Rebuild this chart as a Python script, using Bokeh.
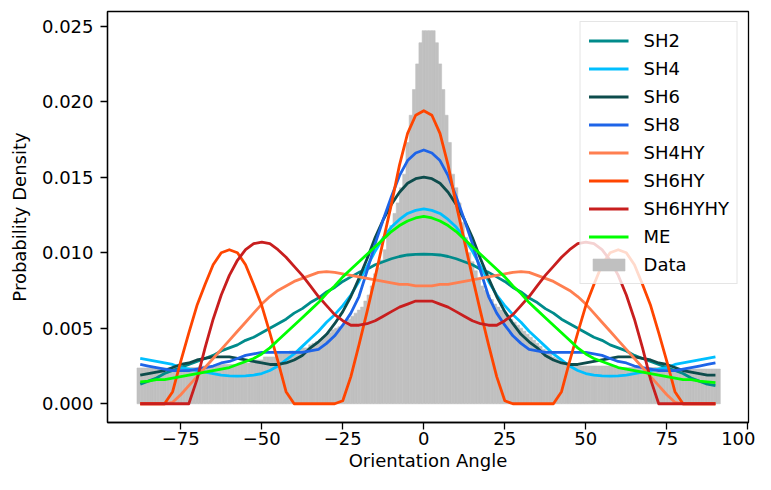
from bokeh.plotting import figure
from bokeh.models import (Range1d, FixedTicker, CustomJSTickFormatter, Legend,
                          LegendItem, NumeralTickFormatter)
from bokeh.embed import file_html
from bokeh.resources import INLINE

# ---------------- data ----------------
# histogram: bin centres (width 1 degree) and densities
hist_centers = list(range(-88, 92))
hist_density = [
    0.00237, 0.00237, 0.00237, 0.00237, 0.00237, 0.00237, 0.00237, 0.00237, 0.00237, 0.00237,
    0.00237, 0.00237, 0.00237,
    0.0024, 0.0024, 0.0024, 0.0024, 0.0024, 0.0024,
    0.0025, 0.0025, 0.0025, 0.0025, 0.0025, 0.0025,
    0.0026, 0.0026, 0.0026, 0.0026, 0.0026, 0.0026,
    0.0027, 0.0027, 0.0027, 0.0027,
    0.0029, 0.0029, 0.0029, 0.0029,
    0.0031, 0.0031, 0.0031, 0.0031,
    0.0033, 0.0033, 0.0033, 0.0033,
    0.0035, 0.0035, 0.0035,
    0.0037, 0.0037, 0.0037,
    0.0039, 0.0040, 0.0041, 0.0042, 0.0044, 0.0045, 0.0047, 0.0049, 0.0050, 0.0051,
    0.0052, 0.0054, 0.0056, 0.0058, 0.0060, 0.0062, 0.0064, 0.0068, 0.0072, 0.0078,
    0.0086, 0.0090, 0.0095, 0.0102, 0.0112, 0.0118, 0.0126, 0.0133, 0.0143, 0.0152,
    0.0173, 0.0191, 0.0208, 0.0225, 0.0239, 0.0247, 0.0247, 0.0247, 0.0247, 0.0239,
    0.0225, 0.0208, 0.0191, 0.0173, 0.0152, 0.0143, 0.0133, 0.0120, 0.0110, 0.0100,
    0.0094, 0.0088, 0.0083, 0.0078, 0.0075, 0.0072, 0.0069, 0.0066, 0.0064, 0.0062,
    0.0060, 0.0058, 0.0056, 0.0054, 0.0052, 0.0050, 0.0048, 0.0046, 0.0044, 0.0042,
    0.0040, 0.0038, 0.0036, 0.0035, 0.0033, 0.0031, 0.0030, 0.0029, 0.0028, 0.0027,
    0.0026, 0.0026,
    0.0025, 0.0025, 0.0025, 0.0025, 0.0025, 0.0025, 0.0025, 0.0025, 0.0025, 0.0025,
    0.0025, 0.0025, 0.0025,
    0.0024, 0.0024, 0.0024, 0.0024, 0.0024, 0.0024, 0.0024, 0.0024, 0.0024, 0.0024,
    0.0024, 0.0024, 0.0024, 0.0024, 0.0024, 0.0024,
    0.0023, 0.0023, 0.0023, 0.0023, 0.0023, 0.0023, 0.0023, 0.0023, 0.0023, 0.0023,
    0.0023, 0.0023, 0.0023, 0.0023, 0.0023, 0.0023,
]

# fitted curves sampled every 2.5 degrees from -87.5 to 90
angle = [-87.5 + 2.5 * i for i in range(72)]

sh2 = [0.0013, 0.0015, 0.0017, 0.0020, 0.0022, 0.0024, 0.0026, 0.0028, 0.0030, 0.0032,
       0.0035, 0.0037, 0.0039, 0.0042, 0.0044, 0.0047, 0.0050, 0.0053, 0.0056, 0.0060,
       0.0063, 0.0067, 0.0070, 0.0074, 0.0077, 0.0081, 0.0084, 0.0087, 0.0089, 0.0092,
       0.0094, 0.0096, 0.00975, 0.00985, 0.00989,
       0.0099, 0.00989, 0.00985, 0.00975, 0.0096, 0.0094, 0.0092, 0.0089, 0.0087, 0.0084,
       0.0081, 0.0077, 0.0074, 0.0070, 0.0067, 0.0063, 0.0060, 0.0056, 0.0053, 0.0050,
       0.0047, 0.0044, 0.0042, 0.0039, 0.0037, 0.0035, 0.0032, 0.0030, 0.0028, 0.0026,
       0.0024, 0.0022, 0.0020, 0.0017, 0.0015, 0.0013, 0.0012]

sh4 = [0.0030, 0.0029, 0.0028, 0.0027, 0.0026, 0.0024, 0.0023, 0.0022, 0.0021, 0.0020,
       0.0019, 0.00185, 0.00183, 0.00185, 0.0019, 0.0020, 0.0022, 0.0025, 0.0029, 0.0033,
       0.0038, 0.0043, 0.0048, 0.0054, 0.0059, 0.0065, 0.0072, 0.0081, 0.0091, 0.0101,
       0.0110, 0.0117, 0.0122, 0.0126, 0.0128,
       0.0129, 0.0128, 0.0126, 0.0122, 0.0117, 0.0110, 0.0101, 0.0091, 0.0081, 0.0072,
       0.0065, 0.0059, 0.0054, 0.0048, 0.0043, 0.0038, 0.0033, 0.0029, 0.0025, 0.0022,
       0.0020, 0.0019, 0.00185, 0.00183, 0.00185, 0.0019, 0.0020, 0.0021, 0.0022, 0.0023,
       0.0024, 0.0026, 0.0027, 0.0028, 0.0029, 0.0030, 0.0031]

sh6 = [0.0019, 0.0020, 0.0021, 0.0022, 0.0024, 0.0026, 0.0027, 0.0029, 0.0030, 0.0031,
       0.0031, 0.0031, 0.0030, 0.0029, 0.0028, 0.0027, 0.0026, 0.0026, 0.0027, 0.0029,
       0.0032, 0.0037, 0.0041, 0.0046, 0.0053, 0.0061, 0.0071, 0.0083, 0.0096, 0.0110,
       0.0122, 0.0132, 0.0140, 0.0146, 0.0149,
       0.0150, 0.0149, 0.0146, 0.0140, 0.0132, 0.0122, 0.0110, 0.0096, 0.0083, 0.0071,
       0.0061, 0.0053, 0.0046, 0.0041, 0.0037, 0.0032, 0.0029, 0.0027, 0.0026, 0.0026,
       0.0027, 0.0028, 0.0029, 0.0030, 0.0031, 0.0031, 0.0031, 0.0030, 0.0029, 0.0027,
       0.0026, 0.0024, 0.0022, 0.0021, 0.0020, 0.0019, 0.0019]

sh8 = [0.0026, 0.0025, 0.0024, 0.0023, 0.0022, 0.0022, 0.0022, 0.0023, 0.0024, 0.0025,
       0.0027, 0.0028, 0.0030, 0.0032, 0.0033, 0.0034, 0.0034, 0.0034, 0.0034, 0.0034,
       0.0034, 0.0035, 0.0036, 0.0040, 0.0045, 0.0052, 0.0060, 0.0071, 0.0088, 0.0106,
       0.0122, 0.0137, 0.0151, 0.0161, 0.0166,
       0.0168, 0.0166, 0.0161, 0.0151, 0.0137, 0.0122, 0.0106, 0.0088, 0.0071, 0.0060,
       0.0052, 0.0045, 0.0040, 0.0036, 0.0035, 0.0034, 0.0034, 0.0034, 0.0034, 0.0034,
       0.0034, 0.0033, 0.0032, 0.0030, 0.0028, 0.0027, 0.0025, 0.0024, 0.0023, 0.0022,
       0.0022, 0.0022, 0.0023, 0.0024, 0.0025, 0.0026, 0.0027]

sh4hy = [0.0, 0.0, 0.0, 0.0, 0.0001, 0.0006, 0.0012, 0.0018, 0.0024, 0.0030,
         0.0036, 0.0042, 0.0048, 0.0054, 0.0060, 0.0066, 0.0071, 0.0075, 0.0078, 0.0081,
         0.0083, 0.0085, 0.0087, 0.00875, 0.0087, 0.0086, 0.0085, 0.0084, 0.0083, 0.0082,
         0.0081, 0.0080, 0.0079, 0.0079, 0.0078,
         0.0078, 0.0078, 0.0079, 0.0079, 0.0080, 0.0081, 0.0082, 0.0083, 0.0084, 0.0085,
         0.0086, 0.0087, 0.00875, 0.0087, 0.0085, 0.0083, 0.0081, 0.0078, 0.0075, 0.0071,
         0.0066, 0.0060, 0.0054, 0.0048, 0.0042, 0.0036, 0.0030, 0.0024, 0.0018, 0.0012,
         0.0006, 0.0001, 0.0, 0.0, 0.0, 0.0, 0.0]

sh6hy = [0.0, 0.0, 0.0, 0.0, 0.0008, 0.0028, 0.0047, 0.0065, 0.0079, 0.0092,
         0.0100, 0.0102, 0.0100, 0.0092, 0.0079, 0.0065, 0.0047, 0.0028, 0.0008, 0.0,
         0.0, 0.0, 0.0, 0.0, 0.0, 0.0002, 0.0018, 0.0039, 0.0061, 0.0084,
         0.0108, 0.0132, 0.0158, 0.0179, 0.0191,
         0.0194, 0.0191, 0.0179, 0.0158, 0.0132, 0.0108, 0.0084, 0.0061, 0.0039, 0.0018,
         0.0002, 0.0, 0.0, 0.0, 0.0, 0.0, 0.0, 0.0008, 0.0028, 0.0047,
         0.0065, 0.0079, 0.0092, 0.0100, 0.0102, 0.0100, 0.0092, 0.0079, 0.0065, 0.0047,
         0.0028, 0.0008, 0.0, 0.0, 0.0, 0.0, 0.0]

sh6hyhy = [0.0, 0.0, 0.0, 0.0, 0.0, 0.0, 0.0, 0.0016, 0.0037, 0.0056,
           0.0072, 0.0085, 0.0095, 0.0102, 0.0106, 0.0107, 0.0106, 0.0102, 0.0097, 0.0091,
           0.0085, 0.0078, 0.0071, 0.0065, 0.0059, 0.0055, 0.0052, 0.0052, 0.0053, 0.0055,
           0.0058, 0.0061, 0.0064, 0.0066, 0.0068,
           0.0068, 0.0068, 0.0066, 0.0064, 0.0061, 0.0058, 0.0055, 0.0053, 0.0052, 0.0052,
           0.0055, 0.0059, 0.0065, 0.0071, 0.0078, 0.0085, 0.0091, 0.0097, 0.0102, 0.0106,
           0.0107, 0.0106, 0.0102, 0.0095, 0.0085, 0.0072, 0.0056, 0.0037, 0.0016, 0.0,
           0.0, 0.0, 0.0, 0.0, 0.0, 0.0, 0.0]

me = [0.00145, 0.0015, 0.0016, 0.0016, 0.0017, 0.0018, 0.0019, 0.0020, 0.0021, 0.0022,
      0.0023, 0.0024, 0.0026, 0.0028, 0.0030, 0.0033, 0.0037, 0.0042, 0.0047, 0.0052,
      0.0057, 0.0062, 0.0067, 0.0073, 0.0078, 0.0084, 0.0089, 0.0094, 0.0099, 0.0104,
      0.0109, 0.0114, 0.0118, 0.0121, 0.0123,
      0.0124, 0.0123, 0.0121, 0.0118, 0.0114, 0.0109, 0.0104, 0.0099, 0.0094, 0.0089,
      0.0084, 0.0078, 0.0073, 0.0067, 0.0062, 0.0057, 0.0052, 0.0047, 0.0042, 0.0037,
      0.0033, 0.0030, 0.0028, 0.0026, 0.0024, 0.0023, 0.0022, 0.0021, 0.0020, 0.0019,
      0.0018, 0.0017, 0.0016, 0.0016, 0.0015, 0.00145, 0.0014]

series_names = ["SH2", "SH4", "SH6", "SH8", "SH4HY", "SH6HY", "SH6HYHY", "ME"]
series_values = [sh2, sh4, sh6, sh8, sh4hy, sh6hy, sh6hyhy, me]
series_colors = ["#008b8b", "#00bfff", "#0d4c4c", "#1e64e8",
                 "#ff7f50", "#ff4500", "#c81e1e", "#00ff00"]

x_ticks = [-75, -50, -25, 0, 25, 50, 75, 100]
y_ticks = [0.0, 0.005, 0.010, 0.015, 0.020, 0.025]

for name, vals in zip(series_names, series_values):
    assert len(vals) == len(angle), (name, len(vals))
assert len(hist_density) == len(hist_centers), len(hist_density)

# ---------------- figure ----------------
FONT = "DejaVu Sans"
p = figure(width=755, height=474, output_backend="svg", toolbar_location=None,
           x_range=Range1d(-97.6, 100.2), y_range=Range1d(-0.00124, 0.02597),
           min_border_left=107, min_border_right=7, min_border_top=11,
           min_border_bottom=52)

p.background_fill_color = "white"
p.border_fill_color = "white"
p.outline_line_color = "black"
p.outline_line_width = 1.3
p.xgrid.visible = False
p.ygrid.visible = False

hist = p.quad(left=[c - 0.5 for c in hist_centers], right=[c + 0.5 for c in hist_centers],
              bottom=0, top=hist_density, fill_color="#c0c0c0",
              line_color="#c0c0c0", line_width=0.6)

items = []
for name, vals, col in zip(series_names, series_values, series_colors):
    r = p.line(angle, vals, line_color=col, line_width=2.8, line_join="round")
    items.append(LegendItem(label=name, renderers=[r]))
items.append(LegendItem(label="Data", renderers=[hist]))

legend = Legend(items=items, location="top_right", margin=10, padding=8, spacing=7,
                glyph_width=40, glyph_height=15, label_height=20, label_standoff=15,
                label_text_font=FONT, label_text_font_size="18px",
                label_text_color="black",
                border_line_color="#cccccc", border_line_width=1,
                background_fill_color="white", background_fill_alpha=0.8)
p.add_layout(legend, "center")

for ax in (p.xaxis[0], p.yaxis[0]):
    ax.major_label_text_font = FONT
    ax.major_label_text_font_size = "18px"
    ax.major_label_text_color = "black"
    ax.axis_label_text_font = FONT
    ax.axis_label_text_font_size = "18px"
    ax.axis_label_text_font_style = "normal"
    ax.axis_label_text_color = "black"
    ax.axis_line_color = "black"
    ax.axis_line_width = 1.3
    ax.major_tick_line_color = "black"
    ax.major_tick_line_width = 1.3
    ax.major_tick_out = 7
    ax.major_tick_in = 0
    ax.minor_tick_line_color = None

p.xaxis.ticker = FixedTicker(ticks=x_ticks)
p.xaxis.formatter = CustomJSTickFormatter(
    code="return tick < 0 ? '\u2212' + Math.abs(tick) : String(tick);")
p.xaxis.axis_label = "Orientation Angle"
p.xaxis.major_label_standoff = 2
p.xaxis.axis_label_standoff = 2

p.yaxis.ticker = FixedTicker(ticks=y_ticks)
p.yaxis.formatter = NumeralTickFormatter(format="0.000")
p.yaxis.axis_label = "Probability Density"
p.yaxis.major_label_standoff = 7
p.yaxis.axis_label_standoff = 9

open("out.html", "w").write(file_html(p, INLINE))
